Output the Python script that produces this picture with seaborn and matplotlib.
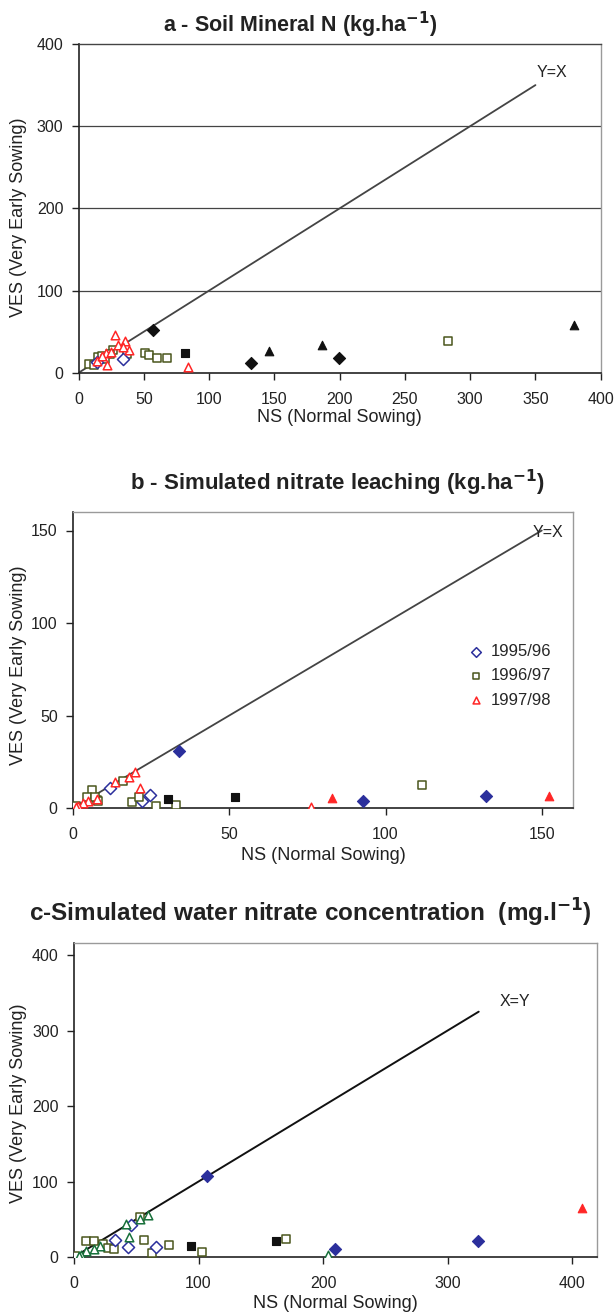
import matplotlib
matplotlib.use("Agg")
import matplotlib.pyplot as plt
import seaborn as sns
import pandas as pd

sns.set_theme(style="white")
plt.rcParams['font.family'] = ['Liberation Sans', 'DejaVu Sans']

# ---------------- data ----------------
# Panel a - Soil mineral N
a_blue_open_x = [33.7, 14]
a_blue_open_y = [16.6, 13]
a_olive_open_x = [8, 12, 14.5, 17.6, 26.5, 36.7, 50.8, 54, 60, 68, 283, 24, 20]
a_olive_open_y = [10.6, 9, 19, 20, 27.6, 23, 23.5, 21, 17.5, 17.5, 39, 23, 17]
a_red_open_x = [27.8, 35.5, 38.7, 30, 22, 84, 14, 21.3, 25, 34, 18]
a_red_open_y = [46, 38, 27.6, 34, 9.4, 7.3, 14, 23.7, 25, 31, 20]
a_blk_diam_x = [56.7, 131.8, 199.5]
a_blk_diam_y = [52, 11.4, 18]
a_blk_tri_x = [146, 186.7, 379.5]
a_blk_tri_y = [27, 34, 57.5]
a_blk_sq_x = [81.5]
a_blk_sq_y = [23.9]

# Panel b - Simulated nitrate leaching
b_blue_open_x = [11.9, 22, 24.5]
b_blue_open_y = [10.8, 3.7, 7.2]
b_blue_fill_x = [33.8, 92.8, 132.3]
b_blue_fill_y = [30.7, 3.7, 6.4]
b_olive_open_x = [6, 4.4, 7.6, 16, 19, 21, 26.5, 33, 1, 8, 7, 111.8]
b_olive_open_y = [10, 5.7, 4.2, 14.8, 3, 6, 1, 1.6, 1, 4, 6, 12.7]
b_blk_sq_x = [30.5, 51.7]
b_blk_sq_y = [5, 6]
b_red_open_x = [13.5, 18, 19.9, 21.5, 7.6, 4.9, 3.3, 1.7, 1, 76]
b_red_open_y = [14, 16.6, 19.2, 11, 4.8, 3.9, 2.5, 1, 0.5, 0.7]
b_red_fill_x = [83, 152.3]
b_red_fill_y = [5.5, 6.4]

# Panel c - Simulated water nitrate concentration
c_blue_fill_x = [107, 209.6, 324.7]
c_blue_fill_y = [107, 10, 21]
c_blue_open_x = [33, 43, 65.6, 46]
c_blue_open_y = [23, 13, 13, 43]
c_green_open_x = [59.7, 53, 42, 44.4, 21, 16, 10, 6, 4, 204]
c_green_open_y = [56, 50.6, 44, 26, 15, 11, 8, 3, 1, 2.5]
c_olive_open_x = [53, 10, 16, 23, 27.5, 32, 56, 63, 76, 103, 170, 1]
c_olive_open_y = [53, 21.6, 20.7, 17, 12, 11, 23, 5, 16.5, 6, 24, 1]
c_blk_sq_x = [94, 162]
c_blk_sq_y = [15, 21.6]
c_red_fill_x = [407.8]
c_red_fill_y = [65.4]

legend_labels = ["1995/96", "1996/97", "1997/98"]

BLUE = "#2b2f9c"
OLIVE = "#4a561c"
RED = "#ff2626"
GREEN = "#17703a"
BLACK = "#111111"
MS = 38

W, H = 616, 1314
fig = plt.figure(figsize=(W / 100, H / 100), dpi=100)


def style_axes(ax, xlim, ylim, xticks, yticks):
    ax.set_xlim(*xlim)
    ax.set_ylim(*ylim)
    ax.set_xticks(xticks)
    ax.set_yticks(yticks)
    for s in ["left", "bottom"]:
        ax.spines[s].set_color("#222222")
        ax.spines[s].set_linewidth(1.2)
    for s in ["top", "right"]:
        ax.spines[s].set_color("#9a9a9a")
        ax.spines[s].set_linewidth(1.0)
    ax.tick_params(axis="both", which="both", direction="out", length=5,
                   width=1, color="#222222", labelsize=11.5, labelcolor="#222222",
                   bottom=True, left=True)
    ax.tick_params(axis="x", pad=9)
    ax.tick_params(axis="y", pad=6)
    ax.set_xlabel("")
    ax.set_ylabel("")


def pts(ax, x, y, marker, color, filled, label=None):
    df = pd.DataFrame({"x": x, "y": y})
    if filled:
        sns.scatterplot(data=df, x="x", y="y", ax=ax, marker=marker, s=MS,
                        color=color, edgecolor=color, linewidth=0.8,
                        label=label, zorder=3)
    else:
        sns.scatterplot(data=df, x="x", y="y", ax=ax, marker=marker, s=MS,
                        facecolor="white", edgecolor=color, linewidth=1.1,
                        label=label, zorder=3)


def box(l, t, r, b):
    return [l / W, 1 - b / H, (r - l) / W, (b - t) / H]


# ---------------- panel a ----------------
A = (78.7, 44, 600.7, 372.7)
axa = fig.add_axes(box(*A))
for yv in [100, 200, 300]:
    axa.axhline(yv, color="#444444", lw=0.9, zorder=1)
axa.plot([0, 350], [0, 350], color="#444444", lw=1.3, zorder=2)
axa.text(351, 365, "Y=X", fontsize=11.5, color="#222222", ha="left", va="center")
pts(axa, a_olive_open_x, a_olive_open_y, "s", OLIVE, False)
pts(axa, a_blue_open_x, a_blue_open_y, "D", BLUE, False)
pts(axa, a_red_open_x, a_red_open_y, "^", RED, False)
pts(axa, a_blk_diam_x, a_blk_diam_y, "D", BLACK, True)
pts(axa, a_blk_tri_x, a_blk_tri_y, "^", BLACK, True)
pts(axa, a_blk_sq_x, a_blk_sq_y, "s", BLACK, True)
style_axes(axa, (0, 400), (0, 400), range(0, 401, 50), range(0, 401, 100))
axa.spines["top"].set_color("#444444")
if axa.get_legend():
    axa.get_legend().remove()

# ---------------- panel b ----------------
B = (73, 512, 573, 808)
axb = fig.add_axes(box(*B))
axb.plot([0, 150], [0, 150], color="#444444", lw=1.3, zorder=2)
axb.text(147, 149, "Y=X", fontsize=11.5, color="#222222", ha="left", va="center")
pts(axb, b_blue_open_x, b_blue_open_y, "D", BLUE, False, legend_labels[0])
pts(axb, b_olive_open_x, b_olive_open_y, "s", OLIVE, False, legend_labels[1])
pts(axb, b_red_open_x, b_red_open_y, "^", RED, False, legend_labels[2])
pts(axb, b_blue_fill_x, b_blue_fill_y, "D", BLUE, True)
pts(axb, b_blk_sq_x, b_blk_sq_y, "s", BLACK, True)
pts(axb, b_red_fill_x, b_red_fill_y, "^", RED, True)
style_axes(axb, (0, 160), (0, 160), range(0, 151, 50), range(0, 151, 50))
h, l = axb.get_legend_handles_labels()
axb.legend(h[:3], l[:3], loc="center left",
           bbox_to_anchor=(468 / W, 1 - 676 / H), bbox_transform=fig.transFigure,
           frameon=False, fontsize=12, handlelength=1.0, handletextpad=0.35,
           labelspacing=0.55, markerscale=0.8, borderpad=0, borderaxespad=0)

# ---------------- panel c ----------------
C = (74, 943, 597, 1257)
axc = fig.add_axes(box(*C))
axc.plot([0, 325], [0, 325], color="#111111", lw=1.4, zorder=2)
axc.text(342, 338, "X=Y", fontsize=11.5, color="#222222", ha="left", va="center")
pts(axc, c_olive_open_x, c_olive_open_y, "s", OLIVE, False)
pts(axc, c_blue_open_x, c_blue_open_y, "D", BLUE, False)
pts(axc, c_green_open_x, c_green_open_y, "^", GREEN, False)
pts(axc, c_blue_fill_x, c_blue_fill_y, "D", BLUE, True)
pts(axc, c_blk_sq_x, c_blk_sq_y, "s", BLACK, True)
pts(axc, c_red_fill_x, c_red_fill_y, "^", RED, True)
style_axes(axc, (0, 420), (0, 416), range(0, 401, 100), range(0, 401, 100))
if axc.get_legend():
    axc.get_legend().remove()

# ---------------- titles and axis labels ----------------
tkw = dict(fontweight="bold", color="#222222", ha="center", va="center")
fig.text(300 / W, 1 - 25 / H, r"a - Soil Mineral N (kg.ha$^{\mathbf{-1}}$)", fontsize=15.5, **tkw)
fig.text(337 / W, 1 - 483 / H, r"b - Simulated nitrate leaching (kg.ha$^{\mathbf{-1}}$)", fontsize=16, **tkw)
fig.text(310 / W, 1 - 913 / H, r"c-Simulated water nitrate concentration  (mg.l$^{\mathbf{-1}}$)", fontsize=17.5, **tkw)

lkw = dict(fontsize=13, color="#222222", ha="center", va="center")
for (l, t, r, b), xlab_y, dy in [(A, 417, 9), (B, 856, 5), (C, 1303, 3)]:
    fig.text((l + r) / 2 / W, 1 - xlab_y / H, "NS (Normal Sowing)", **lkw)
    fig.text(19 / W, 1 - ((t + b) / 2 + dy) / H, "VES (Very Early Sowing)", rotation=90, **lkw)

fig.savefig("out.png", dpi=100, facecolor="white")
